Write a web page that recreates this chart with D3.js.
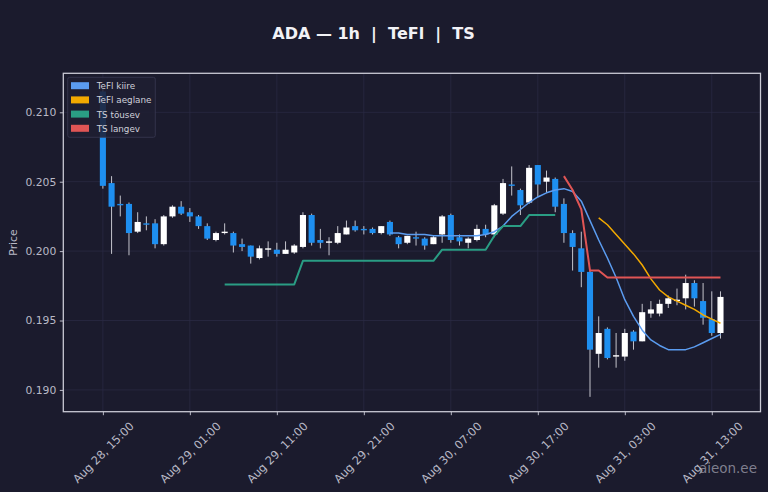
<!DOCTYPE html>
<html>
<head>
<meta charset="utf-8">
<script src="https://cdn.jsdelivr.net/npm/d3@7"></script>
<style>
  html, body { margin: 0; padding: 0; background: #1b1b2d; }
  svg { display: block; }
</style>
</head>
<body>
<svg id="chart" width="768" height="492"></svg>
<script>
// hourly candles, first one at Aug 28 15:00
const startTime = new Date(2025, 7, 28, 15, 0);

const opens  = [0.2115, 0.2049, 0.2034, 0.2034, 0.2014, 0.2020, 0.2020, 0.2005, 0.2025, 0.2032,
                0.2028, 0.2025, 0.2018, 0.2008, 0.2013, 0.2013, 0.2005, 0.2004, 0.1995, 0.2001,
                0.2001, 0.1998, 0.1999, 0.2003, 0.2026, 0.2008, 0.2006, 0.2006, 0.2012, 0.2018,
                0.2016, 0.2016, 0.2013, 0.2021, 0.2010, 0.2006, 0.2010, 0.2009, 0.2005, 0.2012,
                0.2026, 0.2010, 0.2006, 0.2008, 0.2016, 0.2012, 0.2027, 0.2048, 0.2044, 0.2035,
                0.2062, 0.2050, 0.2052, 0.2034, 0.2013, 0.2002, 0.1985, 0.1926, 0.1944, 0.1924,
                0.1924, 0.1942, 0.1935, 0.1955, 0.1955, 0.1962, 0.1964, 0.1966, 0.1977, 0.1964,
                0.1951, 0.1941];
const highs  = [0.2118, 0.2054, 0.2040, 0.2035, 0.2028, 0.2025, 0.2023, 0.2026, 0.2033, 0.2036,
                0.2031, 0.2026, 0.2020, 0.2014, 0.2020, 0.2014, 0.2009, 0.2004, 0.2004, 0.2007,
                0.2006, 0.2007, 0.2005, 0.2028, 0.2027, 0.2016, 0.2010, 0.2018, 0.2022, 0.2022,
                0.2018, 0.2017, 0.2018, 0.2022, 0.2011, 0.2011, 0.2014, 0.2010, 0.2011, 0.2026,
                0.2027, 0.2012, 0.2010, 0.2019, 0.2019, 0.2034, 0.2052, 0.2061, 0.2045, 0.2062,
                0.2062, 0.2058, 0.2053, 0.2038, 0.2015, 0.2014, 0.1986, 0.1953, 0.1945, 0.1941,
                0.1944, 0.1943, 0.1962, 0.1964, 0.1965, 0.1968, 0.1973, 0.1983, 0.1979, 0.1977,
                0.1971, 0.1971];
const lows   = [0.2045, 0.1998, 0.2025, 0.1997, 0.2013, 0.2015, 0.2002, 0.2004, 0.2024, 0.2026,
                0.2021, 0.2016, 0.2008, 0.2007, 0.2012, 0.1999, 0.2000, 0.1991, 0.1994, 0.1996,
                0.1996, 0.1998, 0.1998, 0.2002, 0.2004, 0.2002, 0.1997, 0.2005, 0.2012, 0.2014,
                0.2012, 0.2012, 0.2012, 0.2011, 0.2002, 0.2005, 0.2004, 0.2001, 0.2005, 0.2006,
                0.2006, 0.2004, 0.2002, 0.2007, 0.2010, 0.2010, 0.2026, 0.2040, 0.2026, 0.2034,
                0.2039, 0.2042, 0.2028, 0.2006, 0.1986, 0.1974, 0.1895, 0.1916, 0.1922, 0.1916,
                0.1921, 0.1929, 0.1935, 0.1952, 0.1953, 0.1959, 0.1961, 0.1958, 0.1960, 0.1947,
                0.1939, 0.1937];
const closes = [0.2047, 0.2032, 0.2033, 0.2013, 0.2021, 0.2019, 0.2005, 0.2025, 0.2032, 0.2027,
                0.2025, 0.2018, 0.2009, 0.2013, 0.2014, 0.2004, 0.2003, 0.1996, 0.2002, 0.2002,
                0.1998, 0.2001, 0.2004, 0.2026, 0.2006, 0.2006, 0.2007, 0.2013, 0.2017, 0.2015,
                0.2015, 0.2013, 0.2018, 0.2012, 0.2005, 0.2011, 0.2009, 0.2004, 0.2010, 0.2025,
                0.2008, 0.2007, 0.2009, 0.2016, 0.2012, 0.2033, 0.2049, 0.2047, 0.2033, 0.2060,
                0.2048, 0.2053, 0.2032, 0.2013, 0.2003, 0.1985, 0.1929, 0.1941, 0.1923, 0.1925,
                0.1941, 0.1935, 0.1956, 0.1958, 0.1962, 0.1966, 0.1965, 0.1977, 0.1966, 0.1952,
                0.1941, 0.1967];

// TeFl kiire (fast), from candle 33
const tefl_fast = [null, null, null, null, null, null, null, null, null, null,
                   null, null, null, null, null, null, null, null, null, null,
                   null, null, null, null, null, null, null, null, null, null,
                   null, null, null, 0.2013, 0.2013, 0.2012, 0.2012, 0.2012, 0.2011, 0.2011,
                   0.2011, 0.2011, 0.2011, 0.2011, 0.2012, 0.2014, 0.2018, 0.2025, 0.2030, 0.2035,
                   0.2039, 0.2042, 0.2044, 0.2045, 0.2043, 0.2036, 0.2022, 0.2008, 0.1995, 0.1981,
                   0.1965, 0.1953, 0.1943, 0.1936, 0.1932, 0.1929, 0.1929, 0.1929, 0.1931, 0.1934,
                   0.1937, 0.1940];
// TeFl aeglane (slow), from candle 57
const tefl_slow = [null, null, null, null, null, null, null, null, null, null,
                   null, null, null, null, null, null, null, null, null, null,
                   null, null, null, null, null, null, null, null, null, null,
                   null, null, null, null, null, null, null, null, null, null,
                   null, null, null, null, null, null, null, null, null, null,
                   null, null, null, null, null, null, null, 0.2024, 0.2019, 0.2012,
                   0.2005, 0.1998, 0.1990, 0.1980, 0.1972, 0.1967, 0.1964, 0.1961, 0.1958, 0.1954,
                   0.1951, 0.1948];
// TS tõusev (rising stop)
const ts_up = [null, null, null, null, null, null, null, null, null, null,
               null, null, null, null, 0.1976, 0.1976, 0.1976, 0.1976, 0.1976, 0.1976,
               0.1976, 0.1976, 0.1976, 0.1993, 0.1993, 0.1993, 0.1993, 0.1993, 0.1993, 0.1993,
               0.1993, 0.1993, 0.1993, 0.1993, 0.1993, 0.1993, 0.1993, 0.1993, 0.1993, 0.2001,
               0.2001, 0.2001, 0.2001, 0.2001, 0.2001, 0.2011, 0.2018, 0.2018, 0.2018, 0.2026,
               0.2026, 0.2026, 0.2026, null, null, null, null, null, null, null,
               null, null, null, null, null, null, null, null, null, null,
               null, null];
// TS langev (falling stop)
const ts_down = [null, null, null, null, null, null, null, null, null, null,
                 null, null, null, null, null, null, null, null, null, null,
                 null, null, null, null, null, null, null, null, null, null,
                 null, null, null, null, null, null, null, null, null, null,
                 null, null, null, null, null, null, null, null, null, null,
                 null, null, null, 0.2054, 0.2044, 0.2030, 0.1986, 0.1986, 0.1981, 0.1981,
                 0.1981, 0.1981, 0.1981, 0.1981, 0.1981, 0.1981, 0.1981, 0.1981, 0.1981, 0.1981,
                 0.1981, 0.1981];

const yTicks = [0.190, 0.195, 0.200, 0.205, 0.210];
const xTickHours = [0, 10, 20, 30, 40, 50, 60, 70];

const legendNames = ['TeFl kiire', 'TeFl aeglane', 'TS tõusev', 'TS langev'];
const lineColors = ['#5b9cf0', '#f2a900', '#2a9d84', '#e05555'];

const W = 768, H = 492;
const margin = { left: 63.3, right: 7.5, top: 73.3, bottom: 80.3 };
const bg = '#1b1b2d';
const fg = '#b9b9c6';
const gridColor = '#2a2a42';
const upColor = '#ffffff';
const downColor = '#1e8ff0';

const times = opens.map((d, i) => d3.timeHour.offset(startTime, i));
const candles = times.map((t, i) => ({
  t: t, o: opens[i], h: highs[i], l: lows[i], c: closes[i]
}));

const svg = d3.select('#chart');
svg.append('rect').attr('width', W).attr('height', H).attr('fill', bg);

const x = d3.scaleTime()
  .domain([d3.timeMinute.offset(startTime, -4.55 * 60), d3.timeMinute.offset(startTime, 75.6 * 60)])
  .range([margin.left, W - margin.right]);
const y = d3.scaleLinear()
  .domain([0.18843, 0.21281])
  .range([H - margin.bottom, margin.top]);

const hourPx = x(d3.timeHour.offset(startTime, 1)) - x(startTime);
const bodyW = hourPx * 0.7;

const xTickValues = xTickHours.map(h => d3.timeHour.offset(startTime, h));
const fmt = d3.timeFormat('%b %d, %H:%M');

// grid
const grid = svg.append('g');
grid.selectAll('line.gx').data(xTickValues).enter().append('line')
  .attr('x1', d => x(d)).attr('x2', d => x(d))
  .attr('y1', margin.top).attr('y2', H - margin.bottom)
  .attr('stroke', gridColor).attr('stroke-width', 0.8);
grid.selectAll('line.gy').data(yTicks).enter().append('line')
  .attr('x1', margin.left).attr('x2', W - margin.right)
  .attr('y1', d => y(d)).attr('y2', d => y(d))
  .attr('stroke', gridColor).attr('stroke-width', 0.8);

// candles
const cg = svg.append('g');
cg.selectAll('line.wick').data(candles).enter().append('line')
  .attr('x1', d => x(d.t)).attr('x2', d => x(d.t))
  .attr('y1', d => y(d.h)).attr('y2', d => y(d.l))
  .attr('stroke', '#c4c4cc').attr('stroke-width', 1);
cg.selectAll('rect.body').data(candles).enter().append('rect')
  .attr('x', d => x(d.t) - bodyW / 2)
  .attr('width', bodyW)
  .attr('y', d => y(Math.max(d.o, d.c)))
  .attr('height', d => Math.max(1.2, Math.abs(y(d.o) - y(d.c))))
  .attr('fill', d => d.c >= d.o ? upColor : downColor);

// indicator lines
const series = [tefl_fast, tefl_slow, ts_up, ts_down];
const widths = [1.5, 1.5, 2, 2];
const line = d3.line()
  .defined(d => d.v !== null)
  .x(d => x(d.t))
  .y(d => y(d.v));
const lg = svg.append('g');
series.forEach((s, k) => {
  lg.append('path')
    .datum(s.map((v, i) => ({ t: times[i], v: v })))
    .attr('d', line)
    .attr('fill', 'none')
    .attr('stroke', lineColors[k])
    .attr('stroke-width', widths[k])
    .attr('stroke-linejoin', 'round');
});

// axes
const xAxis = svg.append('g')
  .attr('transform', `translate(0,${H - margin.bottom})`)
  .call(d3.axisBottom(x).tickValues(xTickValues).tickFormat(fmt).tickSize(3.5));
// labels rotated 45 degrees around their centre, centred under the tick
xAxis.selectAll('text')
  .attr('x', 0).attr('y', 0)
  .attr('text-anchor', 'middle')
  .attr('dy', '0.35em')
  .attr('transform', 'translate(0,40.8) rotate(-45)');
const yAxis = svg.append('g')
  .attr('transform', `translate(${margin.left},0)`)
  .call(d3.axisLeft(y).tickValues(yTicks).tickFormat(d3.format('.3f')).tickSize(3.5).tickPadding(3.5));
[xAxis, yAxis].forEach(a => {
  a.select('.domain').remove();
  a.selectAll('line').attr('stroke', fg);
  a.selectAll('text').attr('fill', fg)
    .style('font-family', 'DejaVu Sans, sans-serif').style('font-size', '10.8px');
});
xAxis.selectAll('text').style('font-size', '11.4px');

// frame
svg.append('rect')
  .attr('x', margin.left).attr('y', margin.top)
  .attr('width', W - margin.left - margin.right)
  .attr('height', H - margin.top - margin.bottom)
  .attr('fill', 'none').attr('stroke', '#c9c9d3').attr('stroke-width', 1.3);

// y label
svg.append('text')
  .attr('transform', `translate(17,${(margin.top + H - margin.bottom) / 2}) rotate(-90)`)
  .attr('text-anchor', 'middle')
  .attr('fill', fg)
  .style('font-family', 'DejaVu Sans, sans-serif').style('font-size', '10.8px')
  .text('Price');

// title
svg.append('text')
  .attr('x', 373.5).attr('y', 39.3)
  .attr('text-anchor', 'middle')
  .attr('fill', '#f2f2f6')
  .style('font-family', 'DejaVu Sans, sans-serif').style('font-size', '16px').style('font-weight', 'bold')
  .style('white-space', 'pre')
  .text('ADA — 1h  |  TeFl  |  TS');

// legend
const leg = svg.append('g').attr('transform', 'translate(67.7,77.3)');
leg.append('rect')
  .attr('width', 87.6).attr('height', 60).attr('rx', 2)
  .attr('fill', '#1f1f33').attr('fill-opacity', 0.85)
  .attr('stroke', '#3a3a52').attr('stroke-width', 0.8);
legendNames.forEach((name, k) => {
  const row = leg.append('g').attr('transform', `translate(0,${8.4 + k * 14.2})`);
  row.append('rect')
    .attr('x', 3.3).attr('y', -3.5).attr('width', 18).attr('height', 7)
    .attr('fill', lineColors[k]);
  row.append('text')
    .attr('x', 29).attr('y', 3.5)
    .attr('fill', '#d0d0da')
    .style('font-family', 'DejaVu Sans, sans-serif').style('font-size', '8.8px')
    .text(name);
});

// watermark
svg.append('text')
  .attr('x', 757).attr('y', 473)
  .attr('text-anchor', 'end')
  .attr('fill', '#9a9aa8').attr('fill-opacity', 0.8)
  .style('font-family', 'DejaVu Sans, sans-serif').style('font-size', '13.5px')
  .text('aieon.ee');
</script>
</body>
</html>
